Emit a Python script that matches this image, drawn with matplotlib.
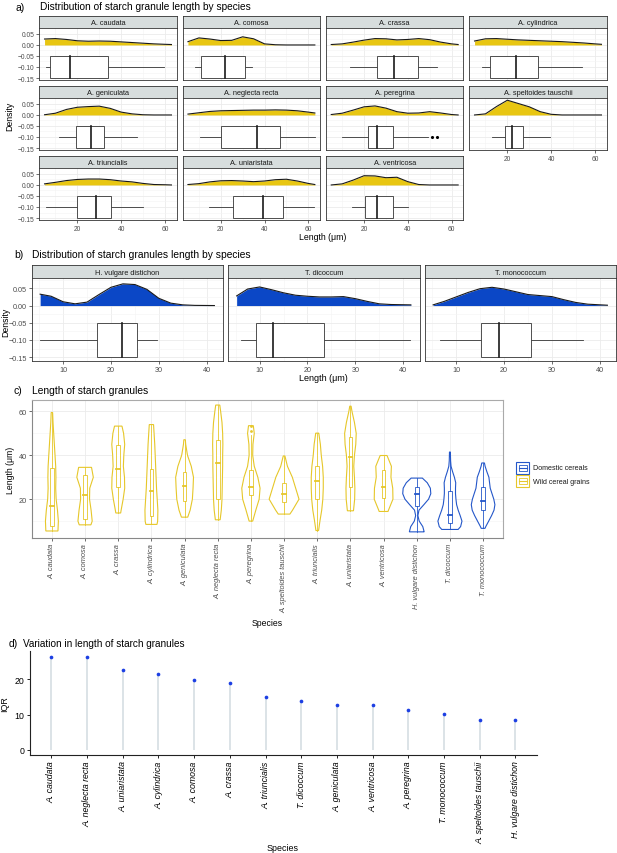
import numpy as np
import matplotlib
matplotlib.use("Agg")
import matplotlib.pyplot as plt
from matplotlib.patches import Rectangle

plt.rcParams["font.family"] = ["Liberation Sans", "DejaVu Sans"]

# ---- data ----
wild = ["A. caudata", "A. comosa", "A. crassa", "A. cylindrica", "A. geniculata",
        "A. neglecta recta", "A. peregrina", "A. speltoides tauschii",
        "A. triuncialis", "A. uniaristata", "A. ventricosa"]
domestic = ["H. vulgare distichon", "T. dicoccum", "T. monococcum"]
species = wild + domestic

whisk_lo = [5.5, 8.3, 13.7, 8.5, 11.8, 10.6, 10.0, 13.2, 5.7, 14.7, 14.4, 5.1, 6.2, 6.7]
q1 = [7.7, 10.9, 25.7, 12.1, 19.2, 20.3, 21.8, 18.9, 20.0, 25.6, 20.5, 17.1, 9.3, 15.1]
median = [16.7, 22.0, 33.7, 23.8, 26.1, 36.4, 25.7, 22.3, 28.5, 39.4, 25.7, 22.4, 12.9, 19.0]
q3 = [34.1, 31.2, 44.7, 33.8, 32.2, 47.0, 33.1, 27.3, 35.2, 48.5, 33.3, 25.5, 23.5, 25.6]
whisk_hi = [59.5, 34.5, 53.3, 54.0, 47.1, 62.9, 49.3, 39.7, 50.1, 62.4, 39.9, 29.6, 41.5, 36.5]

outlier_species = ["A. peregrina", "A. peregrina"]
outlier_values = [51.2, 53.5]

dens_x_wild = [5, 10, 15, 20, 25, 30, 35, 40, 45, 50, 55, 60, 63]
dens_wild = [
    [0.027, 0.029, 0.025, 0.019, 0.017, 0.018, 0.017, 0.014, 0.011, 0.008, 0.005, 0.003, 0.002],
    [0.015, 0.032, 0.027, 0.020, 0.021, 0.037, 0.028, 0.005, 0.001, 0.0, 0.0, 0.0, 0.0],
    [0.002, 0.005, 0.013, 0.022, 0.029, 0.028, 0.023, 0.025, 0.029, 0.024, 0.013, 0.005, 0.002],
    [0.018, 0.028, 0.029, 0.026, 0.023, 0.021, 0.019, 0.017, 0.015, 0.012, 0.009, 0.005, 0.003],
    [0.001, 0.008, 0.025, 0.035, 0.038, 0.040, 0.030, 0.013, 0.005, 0.001, 0.0, 0.0, 0.0],
    [0.004, 0.010, 0.016, 0.019, 0.020, 0.021, 0.022, 0.022, 0.023, 0.022, 0.019, 0.013, 0.009],
    [0.002, 0.008, 0.022, 0.037, 0.041, 0.031, 0.015, 0.008, 0.009, 0.015, 0.009, 0.002, 0.0],
    [0.0, 0.005, 0.038, 0.067, 0.052, 0.037, 0.015, 0.003, 0.0, 0.0, 0.0, 0.0, 0.0],
    [0.005, 0.012, 0.020, 0.025, 0.027, 0.027, 0.024, 0.018, 0.014, 0.007, 0.002, 0.001, 0.0],
    [0.002, 0.006, 0.014, 0.019, 0.020, 0.018, 0.015, 0.018, 0.024, 0.026, 0.018, 0.007, 0.002],
    [0.0, 0.005, 0.022, 0.042, 0.041, 0.033, 0.035, 0.015, 0.002, 0.0, 0.0, 0.0, 0.0],
]

dens_x_dom = [5.2, 7.5, 10, 12.5, 15, 17.5, 20, 22.5, 25, 27.5, 30, 32.5, 35, 37.5, 41.6]
dens_dom = [
    [0.033, 0.027, 0.011, 0.005, 0.010, 0.032, 0.053, 0.063, 0.061, 0.047, 0.021, 0.007, 0.002, 0.0005, 0.0],
    [0.028, 0.048, 0.054, 0.046, 0.037, 0.030, 0.027, 0.025, 0.025, 0.026, 0.020, 0.012, 0.005, 0.003, 0.002],
    [0.002, 0.012, 0.025, 0.038, 0.049, 0.053, 0.048, 0.040, 0.032, 0.029, 0.026, 0.017, 0.009, 0.004, 0.001],
]

iqr_species = ["A. caudata", "A. neglecta recta", "A. uniaristata", "A. cylindrica",
               "A. comosa", "A. crassa", "A. triuncialis", "T. dicoccum", "A. geniculata",
               "A. ventricosa", "A. peregrina", "T. monococcum", "A. speltoides tauschii",
               "H. vulgare distichon"]
iqr_values = [26.4, 26.4, 22.7, 21.6, 19.9, 18.9, 15.1, 13.9, 12.8, 12.7, 11.3, 10.3, 8.35, 8.35]

# ---- style ----
YELLOW = "#E8C612"
BLUE = "#0B47C6"
VIO_YELLOW = "#E6C72A"
VIO_BLUE = "#2457C9"
STRIP = "#D7DDDD"
GRID = "#EBEBEB"
DARK = "#333333"
TICKC = "#4D4D4D"

W, H = 617, 854
fig = plt.figure(figsize=(W / 100, H / 100), dpi=100)


def px_axes(x0, y0, x1, y1):
    return fig.add_axes([x0 / W, 1 - y1 / H, (x1 - x0) / W, (y1 - y0) / H])


def strip(x0, y0, x1, y1, label, size):
    s = px_axes(x0, y0, x1, y1)
    s.set_facecolor(STRIP)
    s.set_xticks([])
    s.set_yticks([])
    for sp in s.spines.values():
        sp.set_color(DARK)
        sp.set_linewidth(0.6)
    s.text(0.5, 0.45, label, ha="center", va="center", fontsize=size, color="#1A1A1A",
           transform=s.transAxes)


def density_panel(ax, xs, ys, fill, sp_i, xlim, ylim, xmaj, xmin, show_x, show_y, lab):
    ax.set_xlim(*xlim)
    ax.set_ylim(*ylim)
    ax.set_xticks(xmaj)
    ax.set_xticks(xmin, minor=True)
    ax.set_yticks([-0.15, -0.10, -0.05, 0.0, 0.05])
    ax.set_yticks([-0.125, -0.075, -0.025, 0.025, 0.075], minor=True)
    ax.grid(which="major", color=GRID, lw=0.6)
    ax.grid(which="minor", color="#F4F4F4", lw=0.4)
    ax.set_axisbelow(True)
    ax.fill_between(xs, 0, ys, color=fill, lw=0)
    ax.plot(xs, ys, color="#1A1A1A", lw=0.8)
    # boxplot
    ax.add_patch(Rectangle((q1[sp_i], -0.15), q3[sp_i] - q1[sp_i], 0.10,
                           facecolor="white", edgecolor=DARK, lw=0.6, zorder=3))
    ax.plot([median[sp_i]] * 2, [-0.15, -0.05], color="#1A1A1A", lw=1.2, zorder=4)
    ax.plot([whisk_lo[sp_i], q1[sp_i]], [-0.10, -0.10], color=DARK, lw=0.6)
    ax.plot([q3[sp_i], whisk_hi[sp_i]], [-0.10, -0.10], color=DARK, lw=0.6)
    outs = [v for s, v in zip(outlier_species, outlier_values) if s == species[sp_i]]
    if outs:
        ax.scatter(outs, [-0.10] * len(outs), s=5, color="black", zorder=4, lw=0)
    for sp in ax.spines.values():
        sp.set_color(DARK)
        sp.set_linewidth(0.6)
    ax.tick_params(which="minor", length=0)
    ax.tick_params(which="major", length=2, width=0.5, color=DARK, labelsize=lab,
                   labelcolor=TICKC, pad=1.5)
    if show_y:
        ax.set_yticklabels(["\u22120.15", "\u22120.10", "\u22120.05", "0.00", "0.05"])
    else:
        ax.tick_params(axis="y", which="both", left=False, labelleft=False)
    if not show_x:
        ax.tick_params(axis="x", which="both", bottom=False, labelbottom=False)


# ---- panel a ----
fig.text(15 / W, 1 - 8 / H, "a)", fontsize=7.5, va="center")
fig.text(40 / W, 1 - 7.5 / H, "Distribution of starch granule length by species",
         fontsize=7.3, va="center")
col_left = [39.3, 182.7, 326.0, 469.3]
row_top = [17, 87, 157]
for i, sp in enumerate(wild):
    r, c = divmod(i, 4)
    x0 = col_left[c]
    x1 = x0 + 137.4
    y0 = row_top[r]
    strip(x0, y0, x1, y0 + 12, sp, 5.3)
    ax = px_axes(x0, y0 + 12, x1, y0 + 64)
    below_empty = (i + 4) >= len(wild)
    density_panel(ax, dens_x_wild, dens_wild[i], YELLOW, i, (2.6, 65.4), (-0.159, 0.077),
                  [20, 40, 60], [10, 30, 50], below_empty, c == 0, 4.8)
fig.text(323 / W, 1 - 237 / H, "Length (\u03bcm)", fontsize=6.3, ha="center", va="center")
fig.text(10 / W, 1 - 116 / H, "Density", fontsize=6.3, rotation=90, ha="center", va="center")

# ---- panel b ----
fig.text(14 / W, 1 - 255 / H, "b)", fontsize=7.5, va="center")
fig.text(32 / W, 1 - 255 / H, "Distribution of starch granules length by species",
         fontsize=7.4, va="center")
bcol = [32.0, 228.5, 425.0]
for j, sp in enumerate(domestic):
    x0 = bcol[j]
    x1 = x0 + 191
    strip(x0, 266, x1, 279, sp, 5.3)
    ax = px_axes(x0, 279, x1, 362)
    density_panel(ax, dens_x_dom, dens_dom[j], BLUE, len(wild) + j, (3.5, 43.4),
                  (-0.161, 0.080), [10, 20, 30, 40], [5, 15, 25, 35], True, j == 0, 5.2)
fig.text(323.5 / W, 1 - 379 / H, "Length (\u03bcm)", fontsize=6.5, ha="center", va="center")
fig.text(6 / W, 1 - 322 / H, "Density", fontsize=6.3, rotation=90, ha="center", va="center")

# ---- panel c ----
fig.text(13 / W, 1 - 391 / H, "c)", fontsize=7.5, va="center")
fig.text(32 / W, 1 - 391 / H, "Length of starch granules", fontsize=7.4, va="center")
ax = px_axes(32, 401, 503, 539)
all_dens = dens_wild + dens_dom
dmax = max(max(d) for d in all_dens)
for i, sp in enumerate(species):
    pos = i + 1
    xs = np.array(dens_x_wild if sp in wild else dens_x_dom, dtype=float)
    ds = np.array(all_dens[i])
    outs = [v for s, v in zip(outlier_species, outlier_values) if s == sp]
    lo = min([whisk_lo[i]] + outs)
    hi = max([whisk_hi[i]] + outs)
    inner = (xs > lo) & (xs < hi)
    yy = np.concatenate([[lo], xs[inner], [hi]])
    dd = np.concatenate([[np.interp(lo, xs, ds)], ds[inner], [np.interp(hi, xs, ds)]])
    half = 0.45 * dd / dmax
    col = VIO_YELLOW if sp in wild else VIO_BLUE
    ax.fill(np.concatenate([pos - half, (pos + half)[::-1]]),
            np.concatenate([yy, yy[::-1]]), facecolor="white", edgecolor=col, lw=0.8)
    ax.add_patch(Rectangle((pos - 0.055, q1[i]), 0.11, q3[i] - q1[i], facecolor="none",
                           edgecolor=col, lw=0.6, zorder=3))
    ax.plot([pos - 0.055, pos + 0.055], [median[i]] * 2, color=col, lw=1.3, zorder=3)
    ax.plot([pos, pos], [whisk_lo[i], q1[i]], color=col, lw=0.6)
    ax.plot([pos, pos], [q3[i], whisk_hi[i]], color=col, lw=0.6)
    if outs:
        ax.scatter([pos] * len(outs), outs, s=4, color=col, lw=0, zorder=3)
ax.set_xlim(0.4, 14.6)
ax.set_ylim(2.3, 65.2)
ax.set_xticks(range(1, len(species) + 1))
ax.set_xticklabels(species, rotation=90, style="italic", fontsize=5.3, color=TICKC)
ax.set_yticks([20, 40, 60])
ax.set_yticks([10, 30, 50], minor=True)
ax.grid(which="major", color=GRID, lw=0.6)
ax.grid(which="minor", axis="y", color="#F4F4F4", lw=0.4)
ax.set_axisbelow(True)
ax.tick_params(which="minor", length=0)
ax.tick_params(which="major", length=2, width=0.5, color=DARK, labelsize=5.3,
               labelcolor=TICKC, pad=1.5)
for sp in ax.spines.values():
    sp.set_color("#AAAAAA")
    sp.set_linewidth(0.8)
ax.spines["left"].set_color("#888888")
ax.spines["bottom"].set_color("#888888")
ax.set_ylabel("Length (\u03bcm)", fontsize=6.2, labelpad=3)
ax.set_xlabel("Species", fontsize=6.2, labelpad=4)

# legend
lg = px_axes(512, 458, 617, 492)
lg.set_xlim(512, 617)
lg.set_ylim(492, 458)
lg.axis("off")
for ky, lab, col in [(462.7, "Domestic cereals", VIO_BLUE), (476.0, "Wild cereal grains", VIO_YELLOW)]:
    lg.add_patch(Rectangle((516, ky), 13, 12.3, facecolor="white", edgecolor=col, lw=0.8))
    lg.add_patch(Rectangle((518.5, ky + 3), 8, 6.3, facecolor="none", edgecolor=col, lw=0.6))
    lg.plot([518.5, 526.5], [ky + 6.15] * 2, color=col, lw=0.8)
    lg.text(533, ky + 6.3, lab, fontsize=5.1, va="center", color="#1A1A1A")

# ---- panel d ----
fig.text(9 / W, 1 - 644 / H, "d)", fontsize=7.5, va="center")
fig.text(23 / W, 1 - 644 / H, "Variation in length of starch granules", fontsize=7.2,
         va="center")
ax = px_axes(30, 652.4, 536.7, 755.7)
pos = np.arange(1, len(iqr_species) + 1)
ax.vlines(pos, 0, iqr_values, color="#D6DEE3", lw=1.2)
ax.scatter(pos, iqr_values, s=7, color="#1C3FE3", lw=0, zorder=3)
ax.set_xlim(0.4, 14.6)
ax.set_ylim(-1.35, 27.9)
ax.set_xticks(pos)
ax.set_xticklabels(iqr_species, rotation=90, style="italic", fontsize=6.3)
ax.set_yticks([0, 10, 20])
ax.tick_params(length=2.5, width=0.6, labelsize=6.3, pad=1.5)
for s in ["top", "right"]:
    ax.spines[s].set_visible(False)
for s in ["left", "bottom"]:
    ax.spines[s].set_linewidth(0.8)
    ax.spines[s].set_color("#222222")
ax.set_ylabel("IQR", fontsize=6.4, labelpad=4)
fig.text(283 / W, 1 - 849 / H, "Species", fontsize=6.4, ha="center", va="center")

fig.savefig("out.png", dpi=100)
